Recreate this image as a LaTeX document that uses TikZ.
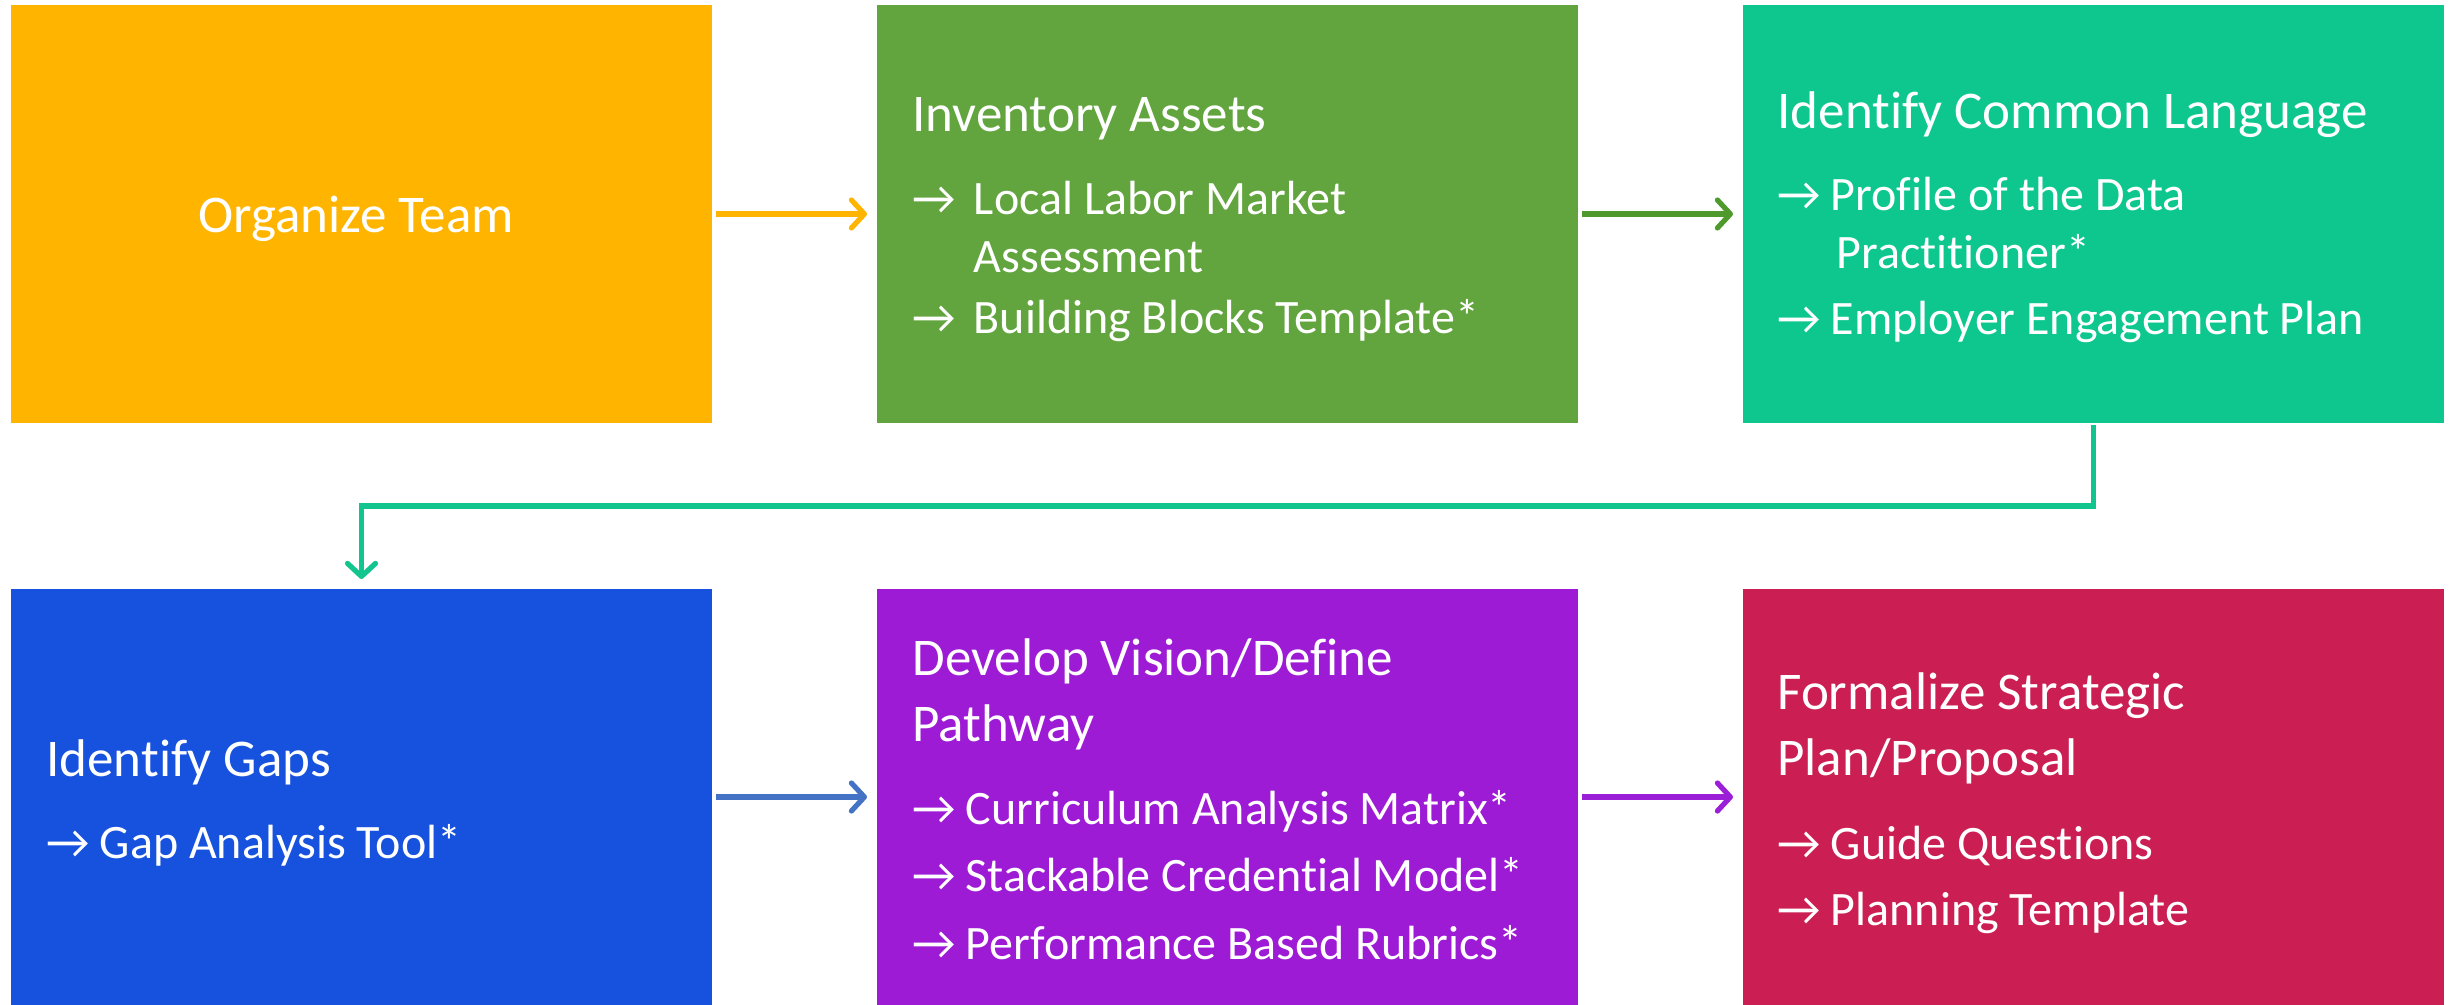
\documentclass[tikz,border=0pt]{standalone}
\usepackage{fontspec}
\setmainfont{Carlito}[Ligatures={NoCommon,NoContextual}, RawFeature={-liga;-clig;-calt;-dlig;-rlig}]
\usetikzlibrary{arrows.meta}
\definecolor{cOrange}{HTML}{FFB500}
\definecolor{cGreen}{HTML}{62A43E}
\definecolor{cTeal}{HTML}{0EC78F}
\definecolor{cBlue}{HTML}{1652DE}
\definecolor{cPurple}{HTML}{9D1BD4}
\definecolor{cCrimson}{HTML}{CB1F53}
\definecolor{aGreen}{HTML}{4E9A2C}
\definecolor{aTeal}{HTML}{12C48E}
\definecolor{aBlue}{HTML}{4472C4}
\definecolor{aPurple}{HTML}{9B1FD6}
\newcommand\arr{→\hspace{5pt}}
\newcommand\arrw{→\hspace{9pt}}
\newcommand\hd[1]{{\fontsize{26.5}{29}\selectfont #1}}
\newcommand\hdb[1]{{\fontsize{26.5}{33}\selectfont #1}}
\begin{document}
\begin{tikzpicture}[x=0.5pt,y=-0.5pt,
  box/.style={rectangle, draw=none, inner sep=0pt, outer sep=0pt, minimum width=350.5pt},
  rowa/.style={minimum height=209pt},
  rowb/.style={minimum height=208pt},
  txta/.style={text=white, inner sep=0pt, anchor=base west, font=\fontsize{24}{29}\selectfont},
  txtb/.style={text=white, inner sep=0pt, anchor=base west, font=\fontsize{24}{33}\selectfont},
  flow/.style={line width=2.6pt, -{Straight Barb[length=6.5pt,width=14pt,round]}},
]
\useasboundingbox (0,0) rectangle (2450,1005);
% boxes
\node[box,rowa,fill=cOrange]  (b1) at (361.5,214) {};
\node[box,rowa,fill=cGreen]   (b2) at (1227.5,214) {};
\node[box,rowa,fill=cTeal]    (b3) at (2093.5,214) {};
\node[box,rowb,fill=cBlue]    (b4) at (361.5,797) {};
\node[box,rowb,fill=cPurple]  (b5) at (1227.5,797) {};
\node[box,rowb,fill=cCrimson] (b6) at (2093.5,797) {};
% texts
\node[text=white, inner sep=0pt, anchor=base, font=\fontsize{26.5}{30}\selectfont] (t1) at (356,233) {Organize Team};
\node[txta] (t2) at (912,132) {\parbox[t]{400pt}{\raggedright
\hd{Inventory Assets}\\[12.5pt]
\arrw Local Labor Market\\
\hphantom{\arrw}Assessment\\[1.5pt]
\arrw Building Blocks Template*}};
\node[txta] (t3) at (1777,129) {\parbox[t]{400pt}{\raggedright
\hd{Identify Common Language}\\[12pt]
\arr Profile of the Data\\
\hphantom{\arr}\hspace*{3pt}Practitioner*\\[4pt]
\arr Employer Engagement Plan}};
\node[txtb] (t4) at (46,776) {\parbox[t]{400pt}{\raggedright
\hdb{Identify Gaps}\\[8pt]
\arr Gap Analysis Tool*}};
\node[txtb] (t5) at (912,675) {\parbox[t]{400pt}{\raggedright
\hdb{Develop Vision/Define}\\
\hdb{Pathway}\\[8.5pt]
\arr Curriculum Analysis Matrix*\\[0.5pt]
\arr Stackable Credential Model*\\[1pt]
\arr Performance Based Rubrics*}};
\node[txtb] (t6) at (1777,709) {\parbox[t]{400pt}{\raggedright
\hdb{Formalize Strategic}\\
\hdb{Plan/Proposal}\\[9pt]
\arr Guide Questions\\
\arr Planning Template}};
% connectors
\draw[flow, draw=cOrange, shorten <=2pt, shorten >=5pt] (b1) -- (b2);
\draw[flow, draw=aGreen, shorten <=2pt, shorten >=5pt] (b2) -- (b3);
\draw[flow, draw=aBlue, shorten <=2pt, shorten >=5pt] (b4) -- (b5);
\draw[flow, draw=aPurple, shorten <=2pt, shorten >=5pt] (b5) -- (b6);
\draw[flow, draw=aTeal, shorten <=1pt, shorten >=5pt] (b3.south) -- ++(0,83) -| (b4.north);
\end{tikzpicture}
\end{document}
